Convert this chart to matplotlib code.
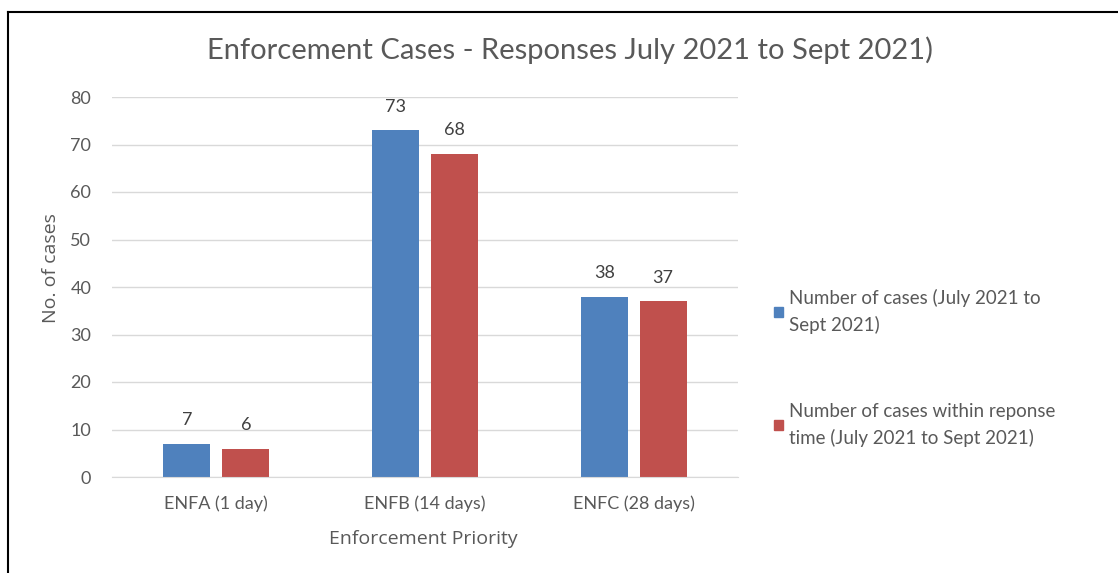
import matplotlib
matplotlib.use("Agg")
import matplotlib.pyplot as plt
import numpy as np
from matplotlib.lines import Line2D
from matplotlib.patches import Patch

categories = ["ENFA (1 day)", "ENFB (14 days)", "ENFC (28 days)"]
series1_name = "Number of cases (July 2021 to\nSept 2021)"
series2_name = "Number of cases within reponse\ntime (July 2021 to Sept 2021)"
series1 = [7, 73, 38]
series2 = [6, 68, 37]
yticks = [0, 10, 20, 30, 40, 50, 60, 70, 80]

plt.rcParams['font.family'] = ['Lato', 'DejaVu Sans']
gray = '#595959'
blue = '#4f81bd'
red = '#c0504d'

W, H = 1118, 573
fig = plt.figure(figsize=(W/100, H/100), dpi=100)
ax = fig.add_axes([112/W, 1-477/H, (738-112)/W, (477-97)/H])

x = np.arange(len(categories))
bw = 0.225
off = 0.141
b1 = ax.bar(x - off, series1, bw, color=blue, label=series1_name)
b2 = ax.bar(x + off, series2, bw, color=red, label=series2_name)
for bars, vals in ((b1, series1), (b2, series2)):
    for r, v in zip(bars, vals):
        ax.annotate(str(v), (r.get_x() + r.get_width()/2, v), xytext=(0, 17),
                    textcoords='offset points', ha='center', va='center',
                    fontsize=13, color='#404040')

ax.set_xlim(-0.5, 2.5)
ax.set_ylim(0, 80)
ax.set_yticks(yticks)
ax.set_xticks(x)
ax.set_xticklabels(categories)
ax.yaxis.grid(True, color='#d9d9d9', linewidth=1)
ax.set_axisbelow(True)
for s in ax.spines.values():
    s.set_visible(False)
ax.spines['bottom'].set_visible(True)
ax.spines['bottom'].set_color('#d9d9d9')
ax.tick_params(axis='both', length=0, labelsize=13, colors=gray)
ax.tick_params(axis='y', pad=15)
ax.tick_params(axis='x', pad=13)

ax.set_ylabel("No. of cases", fontsize=14, color=gray, family=['Open Sans', 'DejaVu Sans'])
ax.yaxis.set_label_coords(-0.083, 0.55)
ax.set_xlabel("Enforcement Priority", fontsize=14, color=gray, family=['Open Sans', 'DejaVu Sans'])
ax.xaxis.set_label_coords(0.498, -0.14)
fig.text(570/W, 1-50/H, "Enforcement Cases - Responses July 2021 to Sept 2021)",
         ha='center', va='center', fontsize=21, color=gray)

handles = [Patch(color=blue), Patch(color=red)]
leg = fig.legend(handles, [series1_name, series2_name], loc='upper left',
                 bbox_to_anchor=(774/W, 1-289/H), frameon=False, fontsize=13.5,
                 labelcolor=gray, handlelength=0.5, handleheight=0.5,
                 handletextpad=0.3, labelspacing=3.65, borderpad=0, borderaxespad=0)
for t in leg.get_texts():
    t.set_linespacing(1.6)

fig.add_artist(Line2D([8/W, 8/W], [0, 1-12/H], color='black', linewidth=1.5,
                      transform=fig.transFigure))
fig.add_artist(Line2D([8/W, 1], [1-12/H, 1-12/H], color='black', linewidth=1.5,
                      transform=fig.transFigure))

fig.savefig("out.png", dpi=100)
